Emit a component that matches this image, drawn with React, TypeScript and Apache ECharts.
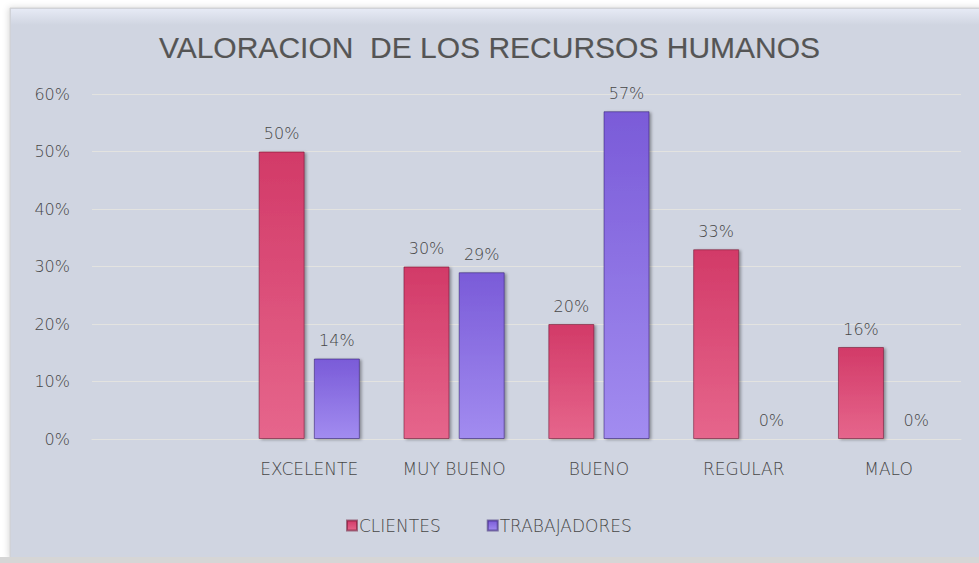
import React, { useEffect, useRef } from "react";
import * as echarts from "echarts";

const categories = ["", "EXCELENTE", "MUY BUENO", "BUENO", "REGULAR", "MALO"];
const clientes = [null, 50, 30, 20, 33, 16];
const trabajadores = [null, 14, 29, 57, 0, 0];
const seriesNames = ["CLIENTES", "TRABAJADORES"];
const titleText = "VALORACION  DE LOS RECURSOS HUMANOS";

export default function App() {
  const ref = useRef<HTMLDivElement>(null);
  useEffect(() => {
    if (!ref.current) return;
    const chart = echarts.init(ref.current, null, { renderer: "svg" });
    const font = "DejaVu Sans";
    const txt = "#474747";
    const grad = (top: string, bottom: string) =>
      new echarts.graphic.LinearGradient(0, 0, 0, 1, [
        { offset: 0, color: top },
        { offset: 1, color: bottom },
      ]);
    const label = {
      show: true,
      position: "top",
      distance: 10,
      color: txt,
      fontFamily: font,
      fontWeight: 200,
      fontSize: 16,
      formatter: (p: any) => (p.value == null ? "" : p.value + "%"),
    };
    chart.setOption({
      animation: false,
      backgroundColor: "#ffffff",
      graphic: [
        { type: "rect", z: -10, shape: { x: 10, y: 8, width: 975, height: 550 }, style: { fill: "#d0d5e1", stroke: "#cfcfcf", lineWidth: 1, shadowColor: "rgba(0,0,0,0.15)", shadowBlur: 6, shadowOffsetX: -1 } },
        { type: "rect", z: -9, shape: { x: 11, y: 9, width: 975, height: 16 }, style: { fill: new echarts.graphic.LinearGradient(0, 0, 0, 1, [{ offset: 0, color: "#e6eaf5" }, { offset: 1, color: "#d0d5e1" }]) } },
        { type: "rect", z: -9, shape: { x: 0, y: 557, width: 979, height: 6 }, style: { fill: "#d6d6d6" } },
      ],
      title: {
        text: titleText,
        left: "center",
        top: 27,
        textStyle: { fontFamily: "Liberation Sans", fontSize: 30, fontWeight: "normal", color: "#555555", textBorderColor: "#555555", textBorderWidth: 0.15 },
      },
      legend: {
        data: seriesNames,
        left: 341,
        top: 512,
        icon: "rect",
        itemWidth: 10,
        itemHeight: 10,
        itemGap: 46,
        textStyle: { fontFamily: font, fontWeight: 200, fontSize: 17, color: txt, padding: [0, 0, 0, -3] },
      },
      grid: { left: 92, right: 18, top: 94, bottom: 124 },
      xAxis: {
        type: "category",
        data: categories,
        axisLine: { show: true, lineStyle: { color: "#e3e3e0", width: 1 } },
        axisTick: { show: false },
        axisLabel: { color: txt, fontFamily: font, fontWeight: 200, fontSize: 17, margin: 21 },
      },
      yAxis: {
        type: "value",
        min: 0,
        max: 60,
        interval: 10,
        axisLine: { show: false },
        axisTick: { show: false },
        splitLine: { lineStyle: { color: "#e3e3e0", width: 1 } },
        axisLabel: { formatter: "{value}%", color: txt, fontFamily: font, fontWeight: 200, fontSize: 16, margin: 22 },
      },
      series: [
        {
          name: seriesNames[0],
          type: "bar",
          data: clientes,
          barWidth: 46,
          barGap: "20%",
          itemStyle: {
            color: grad("#d23a68", "#e6668c"),
            borderColor: "rgba(110,20,50,0.55)",
            borderWidth: 1,
            shadowColor: "rgba(0,0,0,0.35)",
            shadowBlur: 3,
            shadowOffsetX: 2,
            shadowOffsetY: 1,
          },
          label,
        },
        {
          name: seriesNames[1],
          type: "bar",
          data: trabajadores,
          barWidth: 46,
          itemStyle: {
            color: grad("#7a5bd8", "#a28cf0"),
            borderColor: "rgba(50,30,110,0.55)",
            borderWidth: 1,
            shadowColor: "rgba(0,0,0,0.35)",
            shadowBlur: 3,
            shadowOffsetX: 2,
            shadowOffsetY: 1,
          },
          label,
        },
      ],
    });
    return () => chart.dispose();
  }, []);
  return (
    <div
      ref={ref}
      style={{ position: "fixed", left: 0, top: 0, width: 979, height: 563 }}
    />
  );
}
